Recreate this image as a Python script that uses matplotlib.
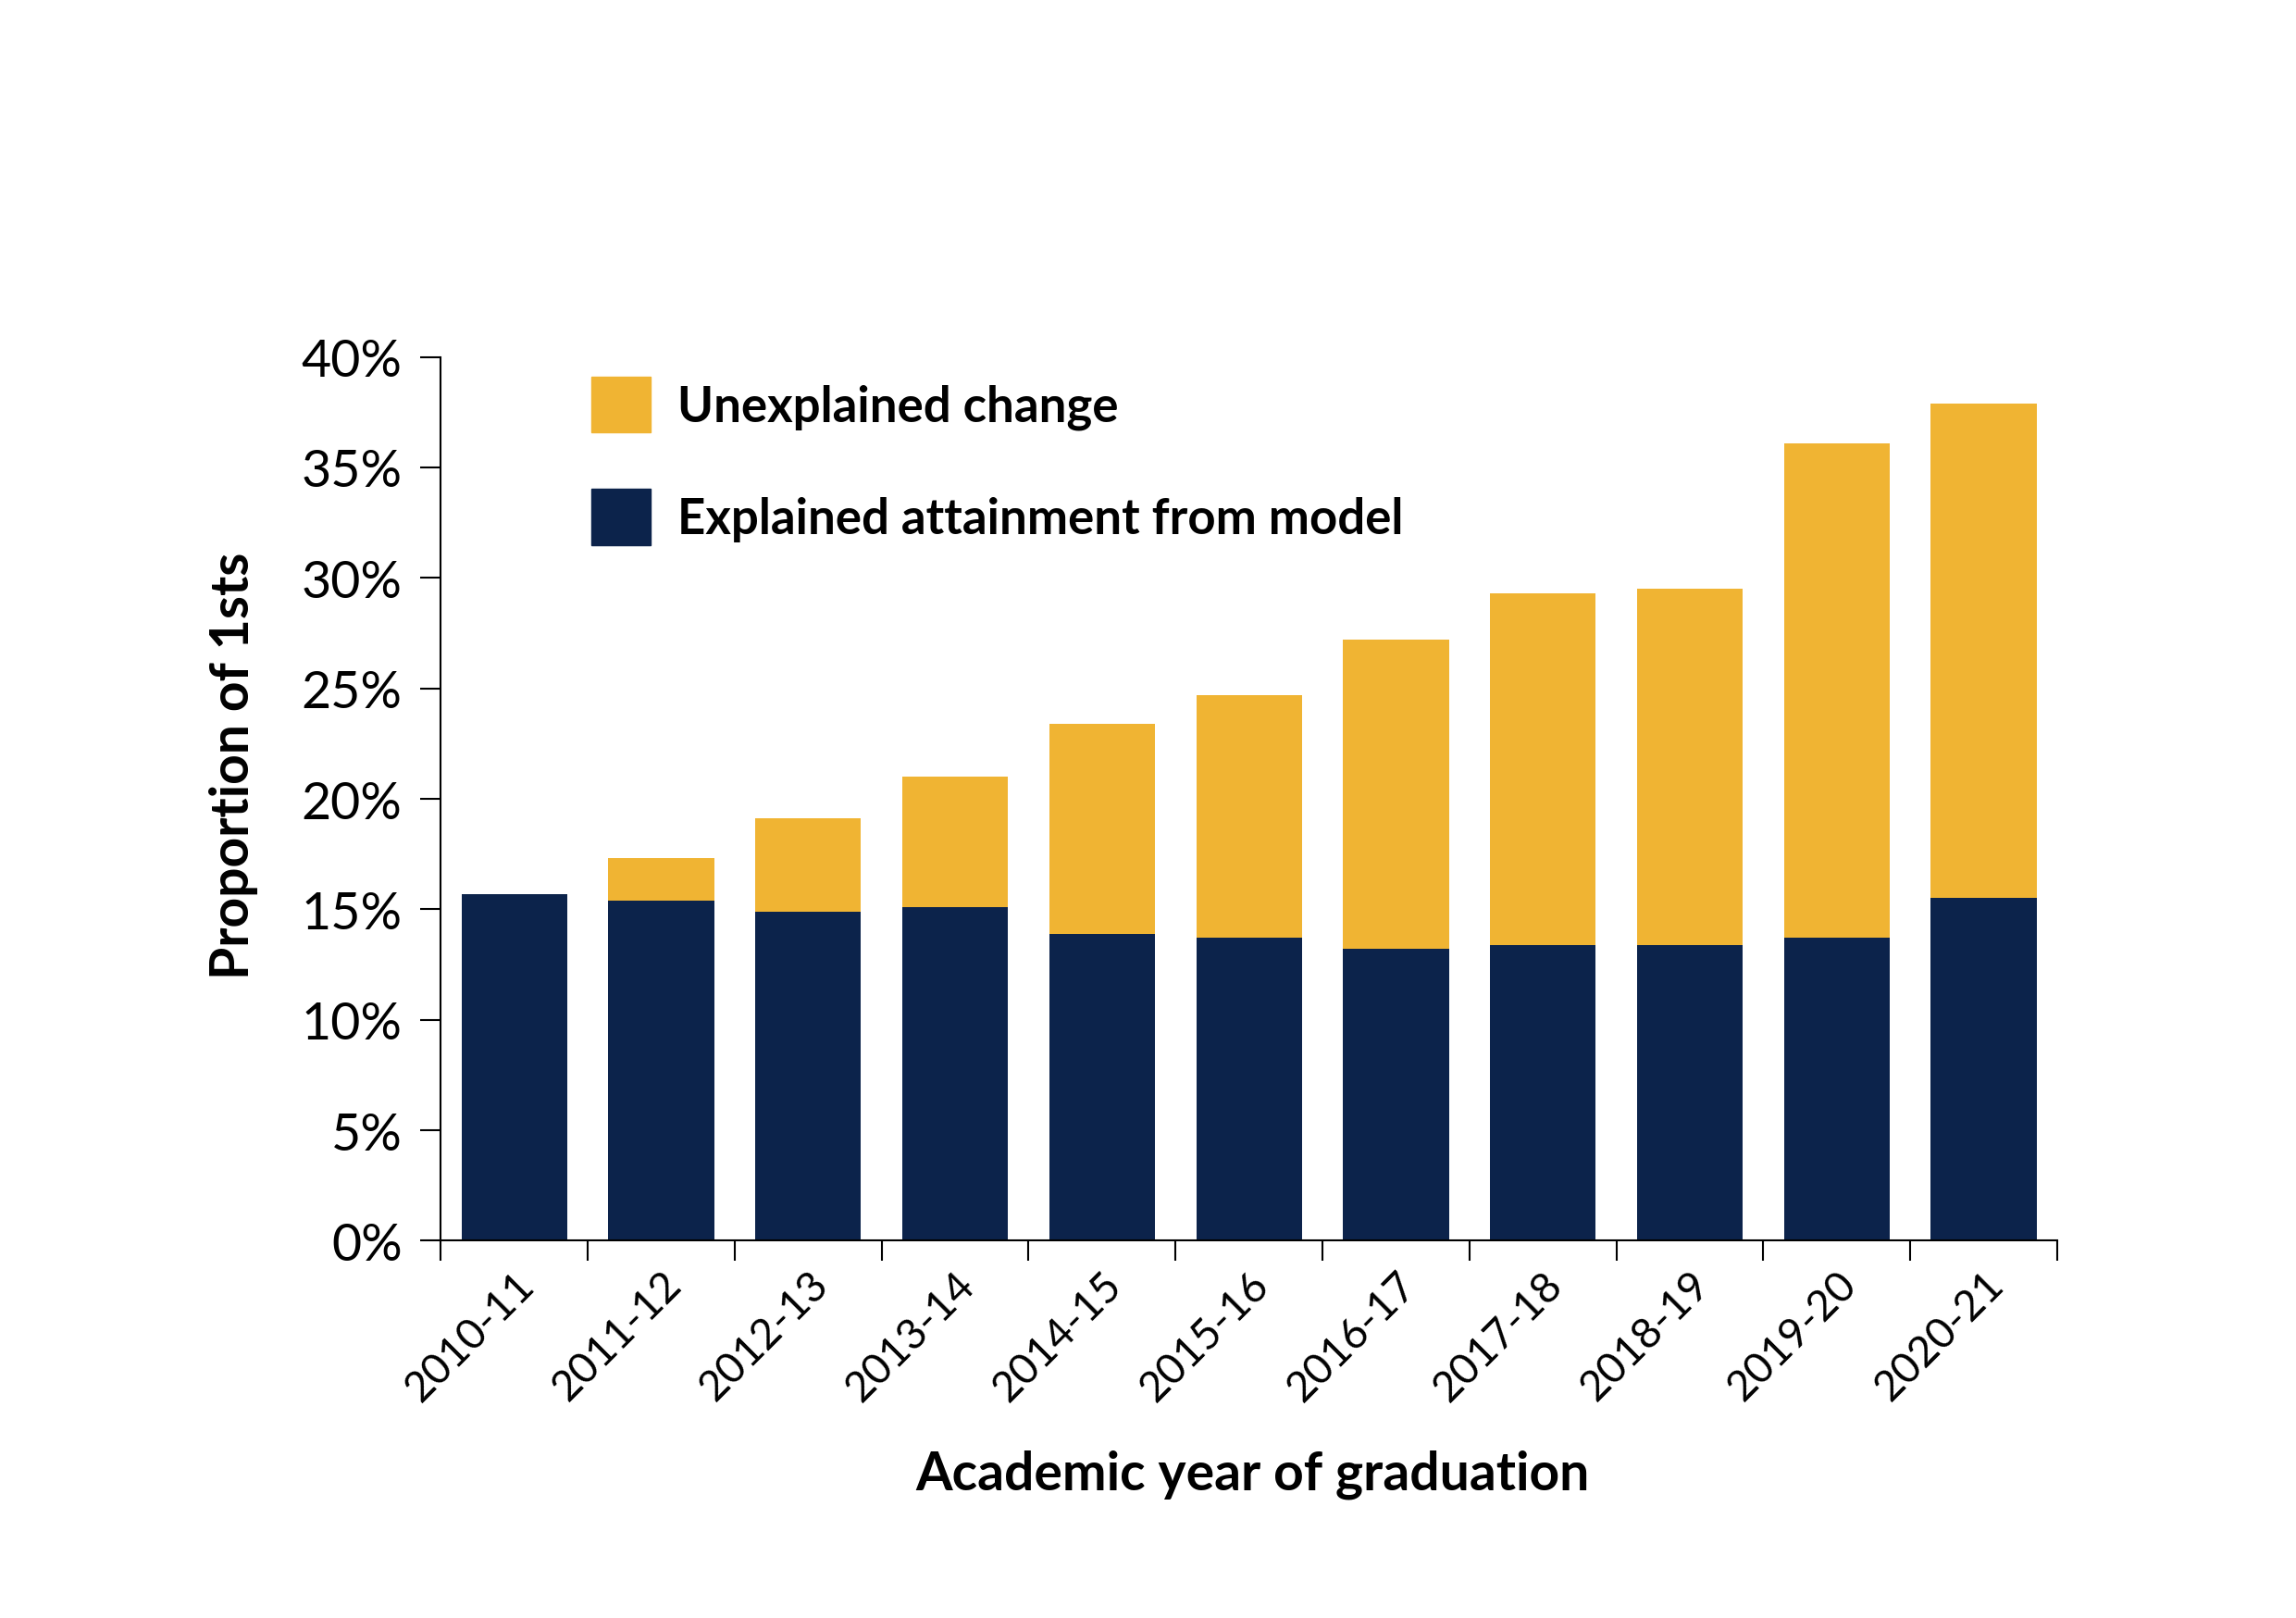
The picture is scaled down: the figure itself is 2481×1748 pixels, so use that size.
import matplotlib.pyplot as plt
from matplotlib.ticker import FuncFormatter
from matplotlib.patches import Patch

years = ['2010-11', '2011-12', '2012-13', '2013-14', '2014-15', '2015-16',
         '2016-17', '2017-18', '2018-19', '2019-20', '2020-21']
explained = [15.7, 15.4, 14.9, 15.1, 13.9, 13.7, 13.2, 13.4, 13.4, 13.7, 15.5]
total = [15.7, 17.3, 19.1, 21.0, 23.4, 24.7, 27.2, 29.3, 29.5, 36.1, 37.9]
unexplained = [t - e for t, e in zip(total, explained)]

navy = '#0C234B'
gold = '#F0B433'

plt.rcParams['font.family'] = ['Lato', 'DejaVu Sans']

fig = plt.figure(figsize=(24.81, 17.49), dpi=100)
ax = fig.add_axes([0.192, 0.233, 0.704, 0.546])

x = list(range(len(years)))
ax.bar(x, explained, width=0.72, color=navy)
ax.bar(x, unexplained, width=0.72, bottom=explained, color=gold)

ax.set_xlim(-0.5, len(years) - 0.5)
ax.set_ylim(0, 40)
ax.set_yticks(range(0, 41, 5))
ax.yaxis.set_major_formatter(FuncFormatter(lambda v, p: '%d%%' % v))

# ticks on the x axis sit between the bars, labels at bar centres
ax.set_xticks([i - 0.5 for i in range(len(years) + 1)])
ax.set_xticklabels([])
ax.set_xticks(x, minor=True)
ax.set_xticklabels(years, minor=True, rotation=45, ha='right',
                   rotation_mode='anchor', fontsize=33)
ax.tick_params(axis='x', which='minor', length=0, pad=18)
ax.tick_params(axis='x', which='major', length=16, width=1.5, direction='out')
ax.tick_params(axis='y', length=16, width=1.5, labelsize=40, pad=14)

for s in ['top', 'right']:
    ax.spines[s].set_visible(False)
for s in ['left', 'bottom']:
    ax.spines[s].set_linewidth(1.5)

ax.set_ylabel('Proportion of 1sts', fontsize=41, fontweight='bold')
ax.yaxis.set_label_coords(-0.113, 0.538)
ax.set_xlabel('Academic year of graduation', fontsize=41, fontweight='bold')
ax.xaxis.set_label_coords(0.502, -0.236)

handles = [Patch(color=gold), Patch(color=navy)]
ax.legend(handles, ['Unexplained change', 'Explained attainment from model'],
          loc='upper left', bbox_to_anchor=(0.093, 0.978), frameon=False,
          handlelength=1.21, handleheight=1.4, handletextpad=0.55,
          labelspacing=1.15, borderpad=0, borderaxespad=0,
          prop={'weight': 'bold', 'size': 38})

fig.savefig('out.png', dpi=100)
